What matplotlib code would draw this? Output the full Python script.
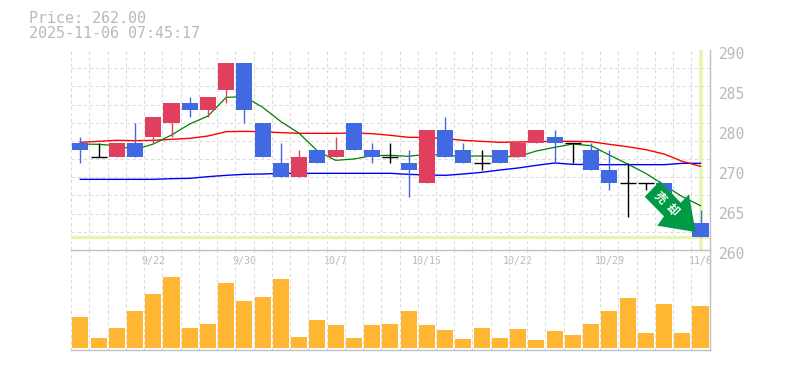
import matplotlib
matplotlib.use("Agg")
import matplotlib.pyplot as plt
from matplotlib.patches import Polygon
from matplotlib.transforms import Affine2D

W, H = 785, 370
opens  = [276,274,274,276,277,279,282,281,284,288,279,273,271,275,274,279,275,274,273,270,278,275,273,275,274,276,277,276,275,272,270,270,270,266,264]
highs  = [277,276,276,279,280,282,283,283,288,288,279,276,275,275,277,279,276,276,275,278,280,276,275,275,276,278,278,276,276,275,273,270,270,266,266]
lows   = [273,274,274,274,276,277,280,280,282,279,274,271,271,273,274,275,273,273,268,270,274,273,272,273,274,276,273,273,272,269,265,269,268,265,262]
closes = [275,274,276,274,280,282,281,283,288,281,274,271,274,273,275,275,274,274,272,278,274,273,273,273,276,278,276,276,272,270,270,270,268,265,262]
ma_short = [275.9,275.85,275.65,275.05,275.9,277.25,278.9,280.1,282.9,283,281.4,279.25,277.5,274.85,273.45,273.65,274.15,274.2,274.05,274.4,274.15,274.1,274.1,274.05,274,274.85,275.4,275.9,275.65,274.25,272.9,271.5,269.75,268,266.65]
ma_mid = [276.15,276.3,276.45,276.4,276.45,276.6,276.75,277.1,277.75,277.8,277.75,277.6,277.5,277.5,277.5,277.55,277.45,277.2,276.9,276.9,276.7,276.45,276.3,276.15,276.2,276.25,276.3,276.3,276.25,275.85,275.5,275.05,274.4,273.3,272.55]
ma_long = [270.6,270.6,270.6,270.6,270.6,270.7,270.75,271,271.2,271.35,271.4,271.5,271.5,271.5,271.5,271.5,271.5,271.5,271.35,271.25,271.2,271.4,271.65,272,272.3,272.7,273.05,272.85,272.8,272.8,272.8,272.8,272.8,273,273]
volumes = [31,10,20,37,54,71,20,24,65,47,51,69,11,28,23,10,23,24,37,23,18,9,20,10,19,8,17,13,24,37,50,15,44,15,42]
date_idx = [4,9,14,19,24,29,34]
date_labels = ["9/22","9/30","10/7","10/15","10/22","10/29","11/6"]
price_ticks = [290,284,278,272,266,260]
price_labels = ["290","285","280","270","265","260"]
last_price = 262
title_lines = ["Price: 262.00","2025-11-06 07:45:17"]
signal_chars = ["売","却"]

RED, BLUE, BLACK = "#E0405E", "#4169E1", "#000000"
GRID, AXIS, TXT = "#DCDCDC", "#C0C0C0", "#B9B9B9"
LIME = "#E4F5AE"
MONO = "DejaVu Sans Mono"

fig = plt.figure(figsize=(W/100, H/100), dpi=100, facecolor="white")
def axes_px(l, t, r, b):
    return fig.add_axes([l/W, 1-b/H, (r-l)/W, (b-t)/H])

ax = axes_px(70.5, 50, 710.3, 250)
av = axes_px(70.5, 250, 710.3, 350)
al = axes_px(70.5, 53, 710.3, 253)   # carries the price labels, 3 px below their ticks
n = len(opens)
xs = list(range(n))
XL = (-0.537, n-1+0.537)

for a in (ax, av):
    a.set_xlim(*XL)
    a.set_axisbelow(True)
    a.patch.set_alpha(0)
    for s in ("left", "top"):
        a.spines[s].set_visible(False)
    for s in ("right", "bottom"):
        a.spines[s].set_color(AXIS)
        a.spines[s].set_linewidth(1.0)
    a.set_xticks([i-0.5 for i in range(n+1)], minor=True)
    a.grid(True, which="minor", axis="x", color=GRID, lw=0.8, ls=(0, (3, 2.5)))
    a.tick_params(which="both", length=0)

# price panel
ax.set_ylim(260, 290)
ax.set_yticks(price_ticks, [""]*len(price_ticks))
ax.set_yticks([260+i*30/11 for i in range(12)], minor=True)
ax.grid(True, which="minor", axis="y", color=GRID, lw=0.8, ls=(0, (3, 2.5)))
ax.set_xticks(date_idx, [""]*len(date_idx))

al.set_ylim(260, 290)
al.set_xticks([])
al.patch.set_alpha(0)
for s in al.spines.values():
    s.set_visible(False)
al.yaxis.tick_right()
al.set_yticks(price_ticks, price_labels, family=MONO, fontsize=10.5, color=TXT)
al.tick_params(axis="y", length=0, pad=6.5)

ax.axhline(last_price, color=LIME, lw=2.3, zorder=1.5)
ax.axvline(xs[-1], color=LIME, lw=2.6, zorder=1.5)

ax.plot(xs, ma_long, color="#0000FF", lw=1.0, zorder=2, solid_joinstyle="miter")
ax.plot(xs, ma_mid, color="#FF0000", lw=1.0, zorder=2, solid_joinstyle="miter")
ax.plot(xs, ma_short, color="#008000", lw=0.9, zorder=2, solid_joinstyle="miter")

for x, o, h, l, c in zip(xs, opens, highs, lows, closes):
    col = RED if c > o else BLUE if c < o else BLACK
    ax.vlines(x, l, h, color=col, lw=1.0, zorder=3)
    if c == o:
        ax.hlines(c, x-0.44, x+0.44, color=col, lw=1.0, zorder=3)
    else:
        ax.bar(x, abs(c-o), bottom=min(o, c), width=0.88, color=col, lw=0, zorder=3)

# volume panel
av.set_ylim(-2, 98)
av.bar(xs, volumes, width=0.88, color="#FFB733", lw=0, zorder=3)
av.set_yticks([])
av.set_xticks(date_idx, date_labels, family=MONO, fontsize=7.2, color=TXT)
av.xaxis.tick_top()
av.tick_params(axis="x", which="major", pad=-11.5, length=0)

# header text
for i, t in enumerate(title_lines):
    fig.text(29/W, 1-(18.5+15*i)/H, t, family=MONO, fontsize=10.8, color=TXT, va="center", ha="left")

# signal arrow, placed in figure pixels
to_px = Affine2D().scale(1/W, 1/H) + fig.transFigure
def P(x, y):
    return (x, H-y)
arrow = [P(660, 181), P(680.7, 202.7), P(689, 194.3), P(695.5, 232), P(657.3, 225.7), P(664, 216.3), P(644.7, 196.7)]
fig.add_artist(Polygon(arrow, closed=True, transform=to_px, facecolor="#009944", edgecolor="none", zorder=10))
for ch, (cx, cy) in zip(signal_chars, [(660.5, 198), (672, 209.5)]):
    fig.text(cx/W, 1-cy/H, ch, family=["Noto Sans CJK JP", "DejaVu Sans"], fontsize=8.5, fontweight="bold",
             color="white", rotation=-45, rotation_mode="anchor", ha="center", va="center", zorder=11)

fig.savefig("out.png", dpi=100, facecolor="white")
